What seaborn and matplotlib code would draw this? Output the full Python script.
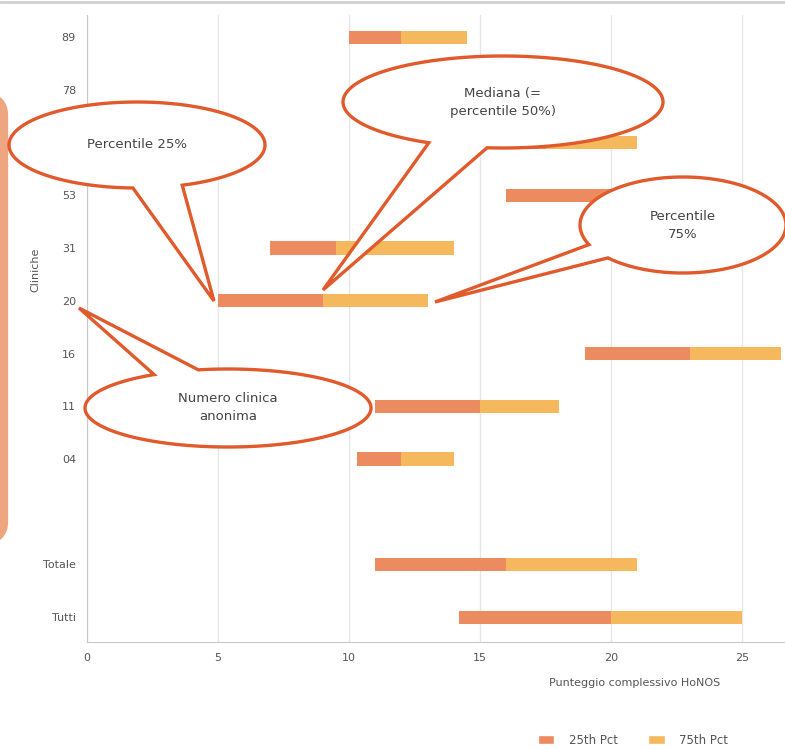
import numpy as np
import pandas as pd
import seaborn as sns
import matplotlib.pyplot as plt
from matplotlib.patches import Polygon, Patch, FancyBboxPatch
from matplotlib.lines import Line2D

# dati (punteggio HoNOS per clinica)
clinics = ["89", "78", "65", "53", "31", "20", "16", "11", "04", "", "Totale", "Tutti"]
p25 = [10.0, 12.0, 13.0, 16.0, 7.0, 5.0, 19.0, 11.0, 10.3, np.nan, 11.0, 14.2]
median = [12.0, 15.0, 17.5, 20.0, 9.5, 9.0, 23.0, 15.0, 12.0, np.nan, 16.0, 20.0]
p75 = [14.5, 19.0, 21.0, 24.0, 14.0, 13.0, 26.5, 18.0, 14.0, np.nan, 21.0, 25.0]
segments = ["25th Pct", "75th Pct"]
x_ticks = [0, 5, 10, 15, 20, 25]

colors = {"25th Pct": "#EC8B60", "75th Pct": "#F6B85C"}
callout_edge = "#E05A2B"
W, H = 785, 749


def build_frame():
    rows = []
    for c, a, m, b in zip(clinics, p25, median, p75):
        if np.isnan(a):
            continue
        rows.append({"clinica": c, "segmento": "25th Pct", "inizio": a, "larghezza": m - a})
        rows.append({"clinica": c, "segmento": "75th Pct", "inizio": m, "larghezza": b - m})
    return pd.DataFrame(rows)


def px(x, y):
    # pixel (origine in alto a sinistra) -> coordinate figura
    return x / W, 1 - y / H


def callout(fig, center, a, b, base1, base2, tip, text):
    cx, cy = center
    t1 = np.degrees(np.arctan2((base1[1] - cy) / b, (base1[0] - cx) / a))
    t2 = np.degrees(np.arctan2((base2[1] - cy) / b, (base2[0] - cx) / a))
    d = (t2 - t1) % 360
    if d > 180:
        t1, t2 = t2, t1
        d = 360 - d
    ts = np.radians(np.linspace(t2, t2 + 360 - d, 200))
    pts = [px(cx + a * np.cos(t), cy + b * np.sin(t)) for t in ts]
    pts.append(px(*tip))
    poly = Polygon(pts, closed=True, facecolor="white", edgecolor=callout_edge,
                   linewidth=2.4, transform=fig.transFigure, zorder=10, joinstyle="miter")
    fig.patches.append(poly)
    tx, ty = px(cx, cy)
    fig.text(tx, ty, text, ha="center", va="center", fontsize=9.5, color="#444444",
             linespacing=1.5, zorder=11)


def plot_chart():
    df = build_frame()
    starts = {(r.clinica, r.segmento): r.inizio for r in df.itertuples()}

    sns.set_style("white")
    fig = plt.figure(figsize=(W / 100, H / 100), dpi=100)
    ax = fig.add_axes([87 / W, 1 - 642 / H, 1 - 87 / W, 627 / H])

    sns.barplot(data=df, x="larghezza", y="clinica", hue="segmento", order=clinics,
                hue_order=segments, palette=colors, dodge=False, orient="h",
                width=0.25, errorbar=None, linewidth=0, saturation=1, legend=False, ax=ax)

    # sposta ogni segmento al suo punto di partenza
    for seg, cont in zip(segments, ax.containers):
        for bar in cont:
            idx = int(round(bar.get_y() + bar.get_height() / 2))
            bar.set_x(starts[(clinics[idx], seg)])

    ax.set_xlim(0, (W - 87) / 26.2)
    ax.set_ylim(11.47, -0.42)
    ax.set_xticks(x_ticks)
    ax.set_yticks(range(len(clinics)))
    ax.set_yticklabels(clinics)
    ax.tick_params(axis="both", length=0, labelsize=8, labelcolor="#555555")
    ax.tick_params(axis="y", pad=8)
    ax.tick_params(axis="x", pad=8)
    ax.grid(axis="x", color="#e6e6e6", linewidth=1)
    ax.set_axisbelow(True)
    for s in ["top", "right"]:
        ax.spines[s].set_visible(False)
    for s in ["left", "bottom"]:
        ax.spines[s].set_color("#c8c8c8")

    ax.set_xlabel("Punteggio complessivo HoNOS", fontsize=8, color="#555555")
    ax.xaxis.set_label_coords(0.785, -0.057)
    ax.set_ylabel("Cliniche", fontsize=8, color="#555555")
    ax.yaxis.set_label_coords(-0.067, 0.593)

    handles = [Patch(facecolor=colors[s], label=s) for s in segments]
    fig.legend(handles=handles, loc="center", bbox_to_anchor=(*px(633, 740),),
               ncol=2, frameon=False, fontsize=8.5, handlelength=1.4, handleheight=0.9,
               handletextpad=1.2, columnspacing=2.6, labelcolor="#555555")

    # cornice arancione a sinistra e bordo grigio in alto
    x0, y0 = px(-80, 540)
    x1, y1 = px(4, 97)
    fig.patches.append(FancyBboxPatch((x0, y0), x1 - x0, y1 - y0,
                                      boxstyle="round,pad=0,rounding_size=0.025",
                                      facecolor="none", edgecolor="#EEA680", linewidth=6,
                                      transform=fig.transFigure, zorder=9))
    fig.add_artist(Line2D([0, 1], [1 - 1.5 / H] * 2, color="#d0d0d0", linewidth=2,
                          transform=fig.transFigure))

    callout(fig, (137, 145), 128, 43, (133, 187), (182, 185), (214, 301), "Percentile 25%")
    callout(fig, (503, 102), 160, 46, (432, 141), (488, 145), (323, 290),
            "Mediana (=\npercentile 50%)")
    callout(fig, (683, 225), 103, 48, (587, 245), (610, 257), (435, 302), "Percentile\n75%")
    callout(fig, (228, 408), 143, 39, (155, 375), (200, 372), (79, 308),
            "Numero clinica\nanonima")

    fig.savefig("out.png", dpi=100)


if __name__ == "__main__":
    plot_chart()
